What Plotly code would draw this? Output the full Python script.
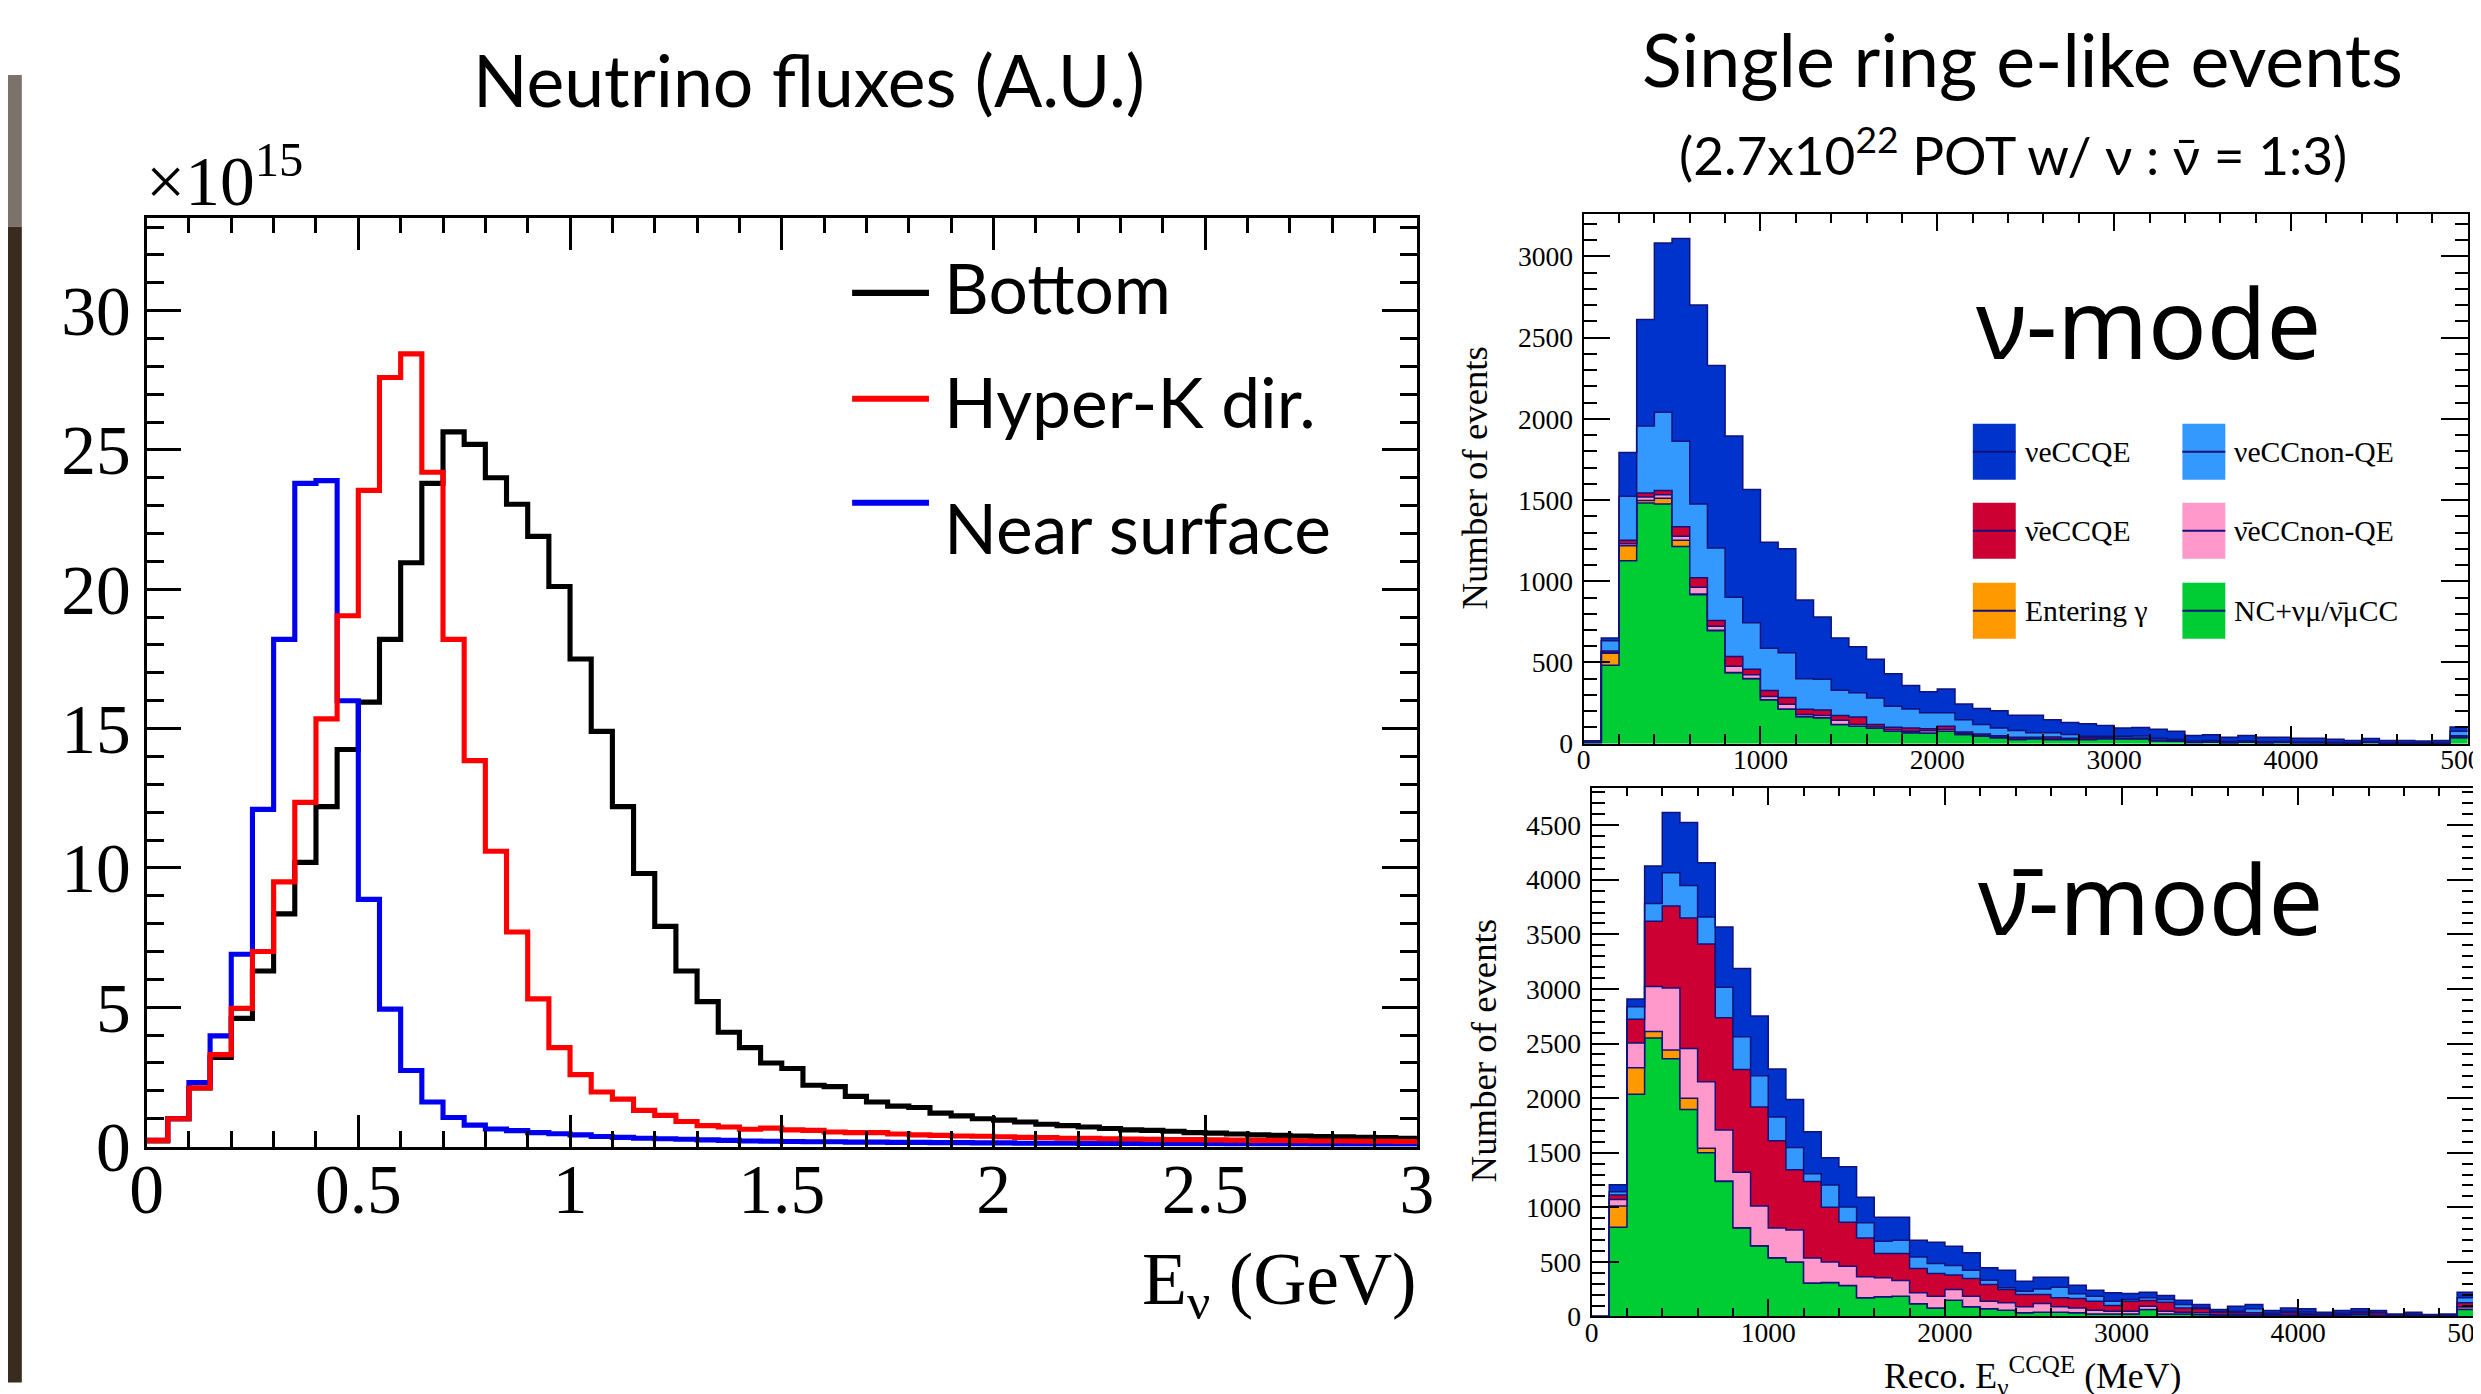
import numpy as np
import plotly.graph_objects as go

# ---------------------------------------------------------------------------
# Geometry: positions below are given in reference-picture pixels (2481x1394).
# The photographed page was observed to map page px -> picture px as
#   pic_x = CX + KX * page_x ,  pic_y = CY + KY * page_y
# (plus the default 8px body margin), so layout positions are pre-compensated.
W, H = 2481, 1394
MARGIN = 8
CX, KX = 16.3, 0.984
CY, KY = -2.7, 0.973
FW = int(round((W - CX) / KX - MARGIN)) + 1
FH = int(round((H - CY) / KY - MARGIN)) + 1
KS = 1.0 / ((KX + KY) / 2)   # font / line size compensation

# ---------------- Left panel: neutrino fluxes (x10^15, A.U.), 0.05 GeV bins, 0-3 GeV
flux_bin_gev = 0.05
flux_bottom = [0.2, 1.0, 2.1, 3.2, 4.6, 6.3, 8.35, 10.2, 12.2, 14.25,
               15.95, 18.2, 20.95, 23.8, 25.65, 25.2, 24.0, 23.05, 21.9, 20.1,
               17.5, 14.9, 12.2, 9.8, 7.9, 6.3, 5.2, 4.1, 3.55, 3.0,
               2.8, 2.2, 2.15, 1.8, 1.6, 1.45, 1.4, 1.2, 1.1, 1.0,
               0.95, 0.88, 0.8, 0.75, 0.7, 0.65, 0.6, 0.58, 0.55, 0.5,
               0.48, 0.45, 0.42, 0.4, 0.38, 0.36, 0.35, 0.33, 0.32, 0.3]
flux_hyperk = [0.22, 1.0, 2.1, 3.3, 4.96, 7.0, 9.5, 12.35, 15.35, 19.05,
               23.55, 27.6, 28.45, 24.2, 18.2, 13.85, 10.6, 7.7, 5.3, 3.55,
               2.58, 1.96, 1.7, 1.3, 1.12, 0.9, 0.75, 0.7, 0.62, 0.66,
               0.6, 0.58, 0.52, 0.5, 0.5, 0.45, 0.42, 0.4, 0.38, 0.37,
               0.35, 0.33, 0.32, 0.3, 0.3, 0.28, 0.27, 0.26, 0.25, 0.25,
               0.24, 0.23, 0.22, 0.22, 0.21, 0.2, 0.2, 0.19, 0.19, 0.18]
flux_near = [0.22, 1.0, 2.3, 3.97, 6.9, 12.1, 18.2, 23.8, 23.9, 16.0,
             8.87, 4.93, 2.73, 1.6, 1.04, 0.77, 0.63, 0.57, 0.5, 0.46,
             0.42, 0.36, 0.33, 0.3, 0.28, 0.26, 0.24, 0.22, 0.2, 0.19,
             0.18, 0.17, 0.17, 0.16, 0.16, 0.15, 0.15, 0.14, 0.14, 0.13,
             0.13, 0.12, 0.12, 0.12, 0.11, 0.11, 0.11, 0.1, 0.1, 0.1,
             0.1, 0.09, 0.09, 0.09, 0.09, 0.08, 0.08, 0.08, 0.08, 0.08]
flux_names = ["Bottom", "Hyper-K dir.", "Near surface"]
flux_colors = ["#000000", "#ff0000", "#0000ee"]

# ---------------- Right panels: single ring e-like events, 100 MeV bins, 0-5000 MeV
ev_bin_mev = 100
comp_names = ["NC+νμ/ν̄μCC", "Entering γ", "ν̄eCCnon-QE", "ν̄eCCQE", "νeCCnon-QE", "νeCCQE"]
comp_colors = ["#00cc33", "#ff9900", "#ff99cc", "#cc0033", "#3399ff", "#0033cc"]

# nu-mode
nu_nc = [8, 483, 1127, 1482, 1476, 1214, 917, 696, 437, 400, 270, 212, 166, 159,
         118, 108, 95, 77, 67, 65, 77, 56, 46, 36, 25, 30, 25, 25, 25, 30, 30, 30,
         18, 15, 8, 10, 6, 10, 6, 8, 6, 5, 4, 3, 8, 3, 3, 2, 3, 36]
nu_gamma = [0, 73, 92, 15, 35, 38, 5, 3, 2, 2, 1, 1, 1, 1,
            0, 0, 0, 0, 0, 0, 0, 0, 0, 0, 0, 0, 0, 0, 0, 0, 0, 0, 0, 0, 0, 0,
            0, 0, 0, 0, 0, 0, 0, 0, 0, 0, 0, 0, 0, 2]
nu_nuebar_nonqe = [0, 5, 12, 21, 21, 25, 41, 24, 38, 23, 20, 30, 13, 14,
                   26, 10, 8, 8, 10, 15, 10, 6, 5, 5, 4, 3, 4, 3, 3, 3, 2, 2,
                   2, 2, 1, 1, 1, 1, 1, 1, 1, 1, 1, 0, 1, 0, 0, 0, 0, 3]
nu_nuebar_ccqe = [1, 10, 21, 25, 27, 59, 59, 36, 59, 33, 36, 42, 32, 33,
                  29, 46, 15, 16, 20, 12, 20, 10, 8, 8, 10, 6, 12, 5, 10, 4, 3, 3,
                  3, 3, 2, 2, 1, 2, 1, 1, 1, 1, 1, 1, 1, 1, 1, 1, 1, 8]
nu_nue_nonqe = [3, 63, 272, 413, 481, 526, 453, 445, 365, 286, 261, 275, 188, 189,
                156, 149, 164, 129, 117, 98, 83, 76, 59, 48, 42, 28, 26, 23, 8, 9, 10, 12,
                10, 8, 6, 6, 5, 5, 4, 4, 3, 4, 3, 2, 3, 2, 2, 2, 2, 28]
nu_nue_ccqe = [6, 16, 269, 656, 1042, 1249, 1226, 1124, 993, 821, 652, 640, 484, 384,
               321, 284, 238, 200, 144, 129, 147, 96, 98, 106, 94, 108, 81, 74, 77, 66, 51, 53,
               56, 49, 33, 36, 26, 32, 27, 25, 23, 23, 18, 14, 19, 14, 14, 11, 14, 26]

# anti-nu-mode
anu_nc = [0, 817, 2036, 2551, 2361, 1895, 1501, 1237, 811, 646, 537, 497, 304, 310,
          284, 171, 180, 186, 116, 79, 150, 89, 70, 58, 34, 40, 40, 34, 24, 24, 24, 64,
          24, 24, 18, 9, 9, 10, 5, 8, 10, 4, 6, 15, 6, 3, 5, 2, 3, 64]
anu_gamma = [0, 196, 242, 59, 81, 103, 40, 5, 3, 2, 2, 2, 2, 1, 1, 1,
             0, 0, 0, 0, 0, 0, 0, 0, 0, 0, 0, 0, 0, 0, 0, 0, 0, 0, 0, 0, 0, 0, 0, 0,
             0, 0, 0, 0, 0, 0, 0, 0, 0, 3]
anu_nuebar_nonqe = [0, 59, 227, 413, 566, 457, 609, 467, 507, 365, 272, 293, 231, 189,
                    176, 191, 174, 144, 101, 107, 97, 97, 70, 67, 55, 79, 49, 45, 34, 25, 25, 31,
                    25, 16, 16, 8, 8, 8, 5, 6, 6, 4, 5, 5, 5, 3, 4, 2, 3, 20]
anu_nuebar_ccqe = [0, 40, 217, 597, 751, 1196, 1261, 1028, 941, 907, 798, 553, 700, 500,
                   403, 357, 223, 247, 223, 208, 132, 162, 153, 122, 112, 82, 82, 86, 82, 52, 91, 52,
                   82, 39, 36, 23, 17, 16, 10, 20, 14, 8, 10, 15, 20, 5, 8, 4, 5, 38]
anu_nue_nonqe = [0, 31, 115, 164, 305, 298, 249, 280, 301, 286, 218, 202, 71, 205,
                 140, 138, 113, 122, 106, 91, 88, 76, 40, 16, 31, 52, 98, 43, 46, 39, 16, 24,
                 25, 31, 10, 6, 15, 36, 10, 15, 12, 6, 9, 10, 9, 4, 7, 3, 4, 46]
anu_nue_ccqe = [0, 63, 71, 342, 553, 575, 497, 550, 625, 547, 441, 441, 385, 249,
                367, 235, 220, 211, 153, 196, 177, 159, 113, 161, 92, 107, 91, 79, 55, 77, 55, 52,
                36, 40, 30, 18, 46, 40, 25, 30, 28, 18, 25, 25, 15, 9, 16, 7, 9, 52]

nu_stack = [nu_nc, nu_gamma, nu_nuebar_nonqe, nu_nuebar_ccqe, nu_nue_nonqe, nu_nue_ccqe]
anu_stack = [anu_nc, anu_gamma, anu_nuebar_nonqe, anu_nuebar_ccqe, anu_nue_nonqe, anu_nue_ccqe]

# ---------------- helpers (layout only): reference picture px -> paper fraction
def fx(p):
    return ((p - CX) / KX - MARGIN) / FW

def fy(p):
    return 1 - ((p - CY) / KY - MARGIN) / FH

def sz(v):
    return v * KS

def step(vals):
    return list(vals) + [vals[-1]]

SERIF = "Liberation Serif"
SANS = "Lato"
NAVY = "#12127a"

fig = go.Figure()

# left panel histograms
flux_edges = np.round(np.arange(len(flux_bottom) + 1) * flux_bin_gev, 4)
for vals, name, col in zip([flux_bottom, flux_near, flux_hyperk],
                           [flux_names[0], flux_names[2], flux_names[1]],
                           [flux_colors[0], flux_colors[2], flux_colors[1]]):
    fig.add_trace(go.Scatter(x=flux_edges, y=step(vals), mode="lines", name=name,
                             line=dict(shape="hv", color=col, width=sz(5)),
                             xaxis="x", yaxis="y", showlegend=False))

# right panels: stacked histograms
ev_edges = np.arange(len(nu_nc) + 1) * ev_bin_mev
for stack, ax, ay, grp in [(nu_stack, "x2", "y2", "nu"), (anu_stack, "x3", "y3", "anu")]:
    for vals, name, col in zip(stack, comp_names, comp_colors):
        fig.add_trace(go.Scatter(x=ev_edges, y=step(vals), mode="lines", name=name,
                                 stackgroup=grp, fillcolor=col,
                                 line=dict(shape="hv", color=NAVY, width=1.5),
                                 xaxis=ax, yaxis=ay, showlegend=False))

def axis_style(fontsize, ticklen, minorlen, dtick, mdtick, rng, lw, standoff):
    return dict(range=rng, tick0=0, dtick=dtick, ticks="inside", ticklen=sz(ticklen),
                tickwidth=lw, tickcolor="black", showline=True, linecolor="black",
                linewidth=lw, mirror="allticks", showgrid=False, zeroline=False,
                tickfont=dict(family=SERIF, size=sz(fontsize), color="black"),
                exponentformat="none", separatethousands=False,
                ticklabelstandoff=standoff, ticklabeloverflow="allow",
                minor=dict(dtick=mdtick, ticks="inside", ticklen=sz(minorlen),
                           tickwidth=max(lw - 0.5, 1), tickcolor="black", showgrid=False))

xa = axis_style(68, 31, 15, 0.5, 0.1, [0, 3], 3, -20)
xa.update(domain=[fx(146), fx(1419)], anchor="y")
ya = axis_style(68, 34, 17, 5, 1, [0, 33.33], 3, -1)
ya.update(domain=[fy(1144), fy(215)], anchor="x")

xa2 = axis_style(27, 17, 9, 1000, 200, [0, 5000], 2, -10)
xa2.update(domain=[fx(1586), fx(2472)], anchor="y2")
ya2 = axis_style(27, 26, 13, 500, 100, [0, 3262], 2, 3)
ya2.update(domain=[fy(741), fy(211)], anchor="x2")

xa3 = axis_style(27, 17, 8, 1000, 200, [0, 5000], 2, -10)
xa3.update(domain=[fx(1594), min(fx(2479), 1.0)], anchor="y3")
ya3 = axis_style(27, 27, 13, 500, 100, [0, 4844], 2, 3)
ya3.update(domain=[fy(1314), fy(785)], anchor="x3")

annotations = []

def ann(text, x, y, size, family=SANS, xanchor="center", yanchor="middle", angle=0):
    annotations.append(dict(text=text, x=fx(x), y=fy(y), xref="paper", yref="paper",
                            xanchor=xanchor, yanchor=yanchor, showarrow=False,
                            textangle=angle,
                            font=dict(family=family, size=sz(size), color="black")))

ann("Neutrino fluxes (A.U.)", 810, 76, 70)
ann("Single ring e-like events", 2026, 56, 72)
ann("(2.7x10<sup>22</sup> POT w/ ν : ν̄ = 1:3)", 2016, 148, 52)
ann("×10<sup>15</sup>", 143, 219, 68, family=SERIF, xanchor="left", yanchor="bottom")
ann("E<sub>ν</sub> (GeV)", 1421, 1281, 72, family=SERIF, xanchor="right")
ann("Number of events", 1477, 475, 36, family=SERIF, angle=-90)
ann("Number of events", 1486, 1048, 36, family=SERIF, angle=-90)
ann("Reco. E<sub>ν</sub><sup>CCQE</sup> (MeV)", 2036, 1374, 35, family=SERIF)
ann("ν-mode", 2152, 318, 95, family="Noto Sans")
ann("ν̄-mode", 2154, 894, 95, family="Noto Sans")

# left legend text
for name, yy in zip(flux_names, [284, 398, 524]):
    ann(name, 943, yy, 68, xanchor="left")

shapes = []
# slide edge strip on the left
shapes.append(dict(type="rect", xref="paper", yref="paper", x0=fx(0), x1=fx(21), y0=fy(224), y1=fy(72),
                   fillcolor="#7b736b", line=dict(width=0), layer="below"))
shapes.append(dict(type="rect", xref="paper", yref="paper", x0=fx(0), x1=fx(21), y0=fy(1380), y1=fy(224),
                   fillcolor="#3a2b1f", line=dict(width=0), layer="below"))

# left legend line samples
for col, yy in zip(flux_colors, [290, 396, 500]):
    shapes.append(dict(type="line", xref="paper", yref="paper", x0=fx(853), x1=fx(930),
                       y0=fy(yy), y1=fy(yy), line=dict(color=col, width=sz(6))))

# top-right legend (2 columns x 3 rows)
leg_order = [("νeCCQE", 5), ("νeCCnon-QE", 4), ("ν̄eCCQE", 3), ("ν̄eCCnon-QE", 2),
             ("Entering γ", 1), ("NC+νμ/ν̄μCC", 0)]
col_x = [1976, 2186]
row_y = [(421, 477), (500, 556), (580, 636)]
for k, (label, ci) in enumerate(leg_order):
    c = k % 2
    r = k // 2
    x0 = col_x[c]
    y0, y1 = row_y[r]
    shapes.append(dict(type="rect", xref="paper", yref="paper", x0=fx(x0), x1=fx(x0 + 43),
                       y0=fy(y1), y1=fy(y0), fillcolor=comp_colors[ci], line=dict(width=0)))
    ym = (y0 + y1) / 2
    shapes.append(dict(type="line", xref="paper", yref="paper", x0=fx(x0), x1=fx(x0 + 43),
                       y0=fy(ym), y1=fy(ym), line=dict(color=NAVY, width=2)))
    ann(label, x0 + 50, ym, 29, family=SERIF, xanchor="left")

fig.update_layout(
    width=FW, height=FH, autosize=False,
    margin=dict(l=0, r=0, t=0, b=0, pad=0),
    paper_bgcolor="white", plot_bgcolor="white",
    xaxis=xa, yaxis=ya, xaxis2=xa2, yaxis2=ya2, xaxis3=xa3, yaxis3=ya3,
    annotations=annotations, shapes=shapes, showlegend=False,
)

fig.write_html("out.html", config={"displayModeBar": False},
               post_script="document.documentElement.style.overflow='hidden';"
                           "document.body.style.overflow='hidden';")
